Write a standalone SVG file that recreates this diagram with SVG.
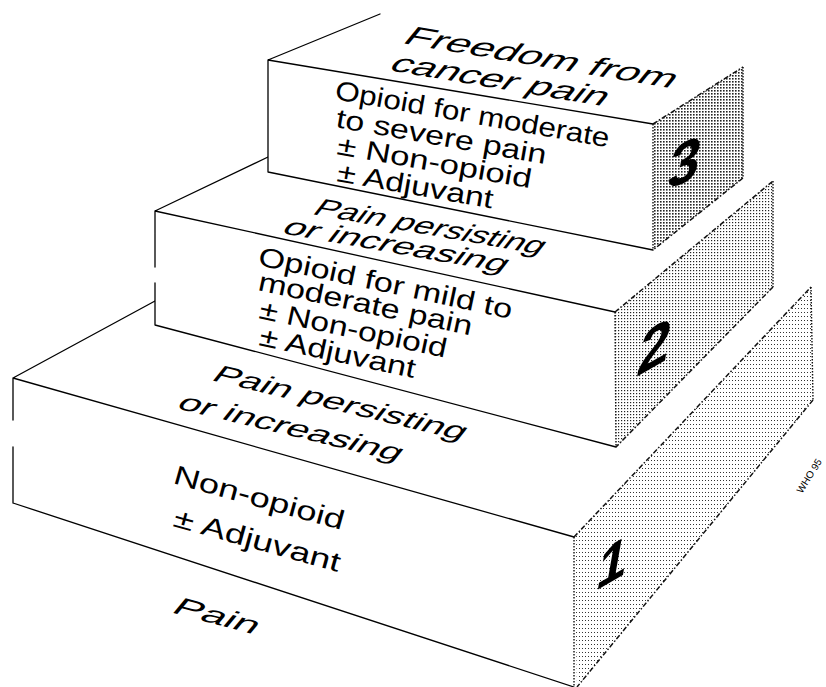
<svg xmlns="http://www.w3.org/2000/svg" width="826" height="687" viewBox="0 0 826 687">
<style>
 .edge{fill:none;stroke:#000;stroke-width:1.3;stroke-linejoin:round;stroke-linecap:round}
 .face{fill:#fff;stroke:none}
 .dotv{fill:none;stroke:#111;stroke-width:1.4;stroke-dasharray:1.5 1.5}
 .dotd{fill:none;stroke:#111;stroke-width:1.5;stroke-dasharray:5 2 1.5 2}
 .ft{font-family:"Liberation Sans",Arial,sans-serif;font-size:27px;fill:#000}
 .tp{font-family:"Liberation Sans",Arial,sans-serif;font-size:25px;fill:#000}
 .num{font-family:"Liberation Sans",Arial,sans-serif;font-size:58px;font-weight:bold;font-style:italic;fill:#000}
 .who{font-family:"Liberation Sans",Arial,sans-serif;font-size:10px;fill:#000}
</style>
<defs>
 <pattern id="dots1" width="3" height="4" patternUnits="userSpaceOnUse"><rect width="1" height="1" fill="#333"/></pattern>
 <pattern id="dots2" width="3" height="3" patternUnits="userSpaceOnUse"><rect width="1.2" height="1.2" fill="#222"/></pattern>
 <pattern id="dots3" width="3" height="3" patternUnits="userSpaceOnUse"><rect width="1.6" height="1.6" fill="#222"/></pattern>
</defs>
<rect width="826" height="687" fill="#fff"/>

<g id="step1">
 <polygon class="face" points="13,378 574,537 574,687 13,503"/>
 <polygon points="574,537 811,287 813,400 577,687" fill="url(#dots1)"/>
 <path class="edge" d="M13,378 L155,301 M13,378 L574,537 M13,503 L574,687 M13,378 L13,420 M13,447 L13,503"/>
 <path class="dotv" d="M574,537 L574,687 M811,287 L813,400"/>
 <path class="dotd" d="M574,537 L811,287 M813,400 L577,687"/>
 <text class="tp" transform="translate(210,380) rotate(13.5) skewX(-25)" textLength="258" lengthAdjust="spacingAndGlyphs">Pain persisting</text>
 <text class="tp" transform="translate(175,408) rotate(13.5) skewX(-25)" textLength="228" lengthAdjust="spacingAndGlyphs">or increasing</text>
 <text class="ft" transform="translate(172,483) rotate(15.5)" textLength="176" lengthAdjust="spacingAndGlyphs">Non-opioid</text>
 <text class="ft" transform="translate(172,526) rotate(15.5)" textLength="172" lengthAdjust="spacingAndGlyphs">± Adjuvant</text>
 <text class="tp" transform="translate(170,612) rotate(15) skewX(-25)" textLength="86" lengthAdjust="spacingAndGlyphs">Pain</text>
 <text class="num" transform="translate(597,590) skewY(-30)" style="font-size:54px">1</text>
</g>

<g id="step2">
 <polygon class="face" points="155,211 615,312 616,447 155,325"/>
 <polygon points="615,312 773,181 773,287 616,447" fill="url(#dots2)"/>
 <path class="edge" d="M155,211 L268,157 M155,211 L615,312 M155,325 L616,447 M155,211 L155,267 M155,283 L155,325"/>
 <path class="dotv" d="M615,312 L616,447 M773,181 L773,287"/>
 <path class="dotd" d="M615,312 L773,181 M773,287 L616,447"/>
 <text class="tp" transform="translate(311,214) rotate(10) skewX(-28)" textLength="232" lengthAdjust="spacingAndGlyphs">Pain persisting</text>
 <text class="tp" transform="translate(280,233) rotate(10) skewX(-28)" textLength="226" lengthAdjust="spacingAndGlyphs">or increasing</text>
 <text class="ft" transform="translate(257,265) rotate(12)" textLength="259" lengthAdjust="spacingAndGlyphs">Opioid for mild to</text>
 <text class="ft" transform="translate(257,290) rotate(12)" textLength="218" lengthAdjust="spacingAndGlyphs">moderate pain</text>
 <text class="ft" transform="translate(258,318) rotate(12)" textLength="191" lengthAdjust="spacingAndGlyphs">± Non-opioid</text>
 <text class="ft" transform="translate(258,345) rotate(12)" textLength="159" lengthAdjust="spacingAndGlyphs">± Adjuvant</text>
 <text class="num" transform="translate(638,376) skewY(-30)">2</text>
</g>

<g id="step3">
 <polygon class="face" points="268,60 653,124 653,250 268,172"/>
 <polygon points="653,124 743,67 743,178 653,250" fill="url(#dots3)"/>
 <path class="edge" d="M268,60 L380,14 M268,60 L653,124 M268,172 L653,250 M268,60 L268,172"/>
 <path class="dotv" d="M653,124 L653,250 M743,67 L743,178"/>
 <path class="dotd" d="M653,124 L743,67 M743,178 L653,250"/>
 <text class="tp" transform="translate(401,43) rotate(9.5) skewX(-30)" style="font-size:27px" textLength="273" lengthAdjust="spacingAndGlyphs">Freedom from</text>
 <text class="tp" transform="translate(387,70) rotate(9.5) skewX(-30)" style="font-size:27px" textLength="218" lengthAdjust="spacingAndGlyphs">cancer pain</text>
 <text class="ft" transform="translate(334,99) rotate(10)" textLength="278" lengthAdjust="spacingAndGlyphs">Opioid for moderate</text>
 <text class="ft" transform="translate(335,127) rotate(10)" textLength="213" lengthAdjust="spacingAndGlyphs">to severe pain</text>
 <text class="ft" transform="translate(336,154) rotate(10)" textLength="197" lengthAdjust="spacingAndGlyphs">± Non-opioid</text>
 <text class="ft" transform="translate(336,181) rotate(10)" textLength="158" lengthAdjust="spacingAndGlyphs">± Adjuvant</text>
 <text class="num" transform="translate(668,190) skewY(-25)">3</text>
</g>

<text class="who" transform="translate(802,494) rotate(-58)">WHO 95</text>
</svg>
